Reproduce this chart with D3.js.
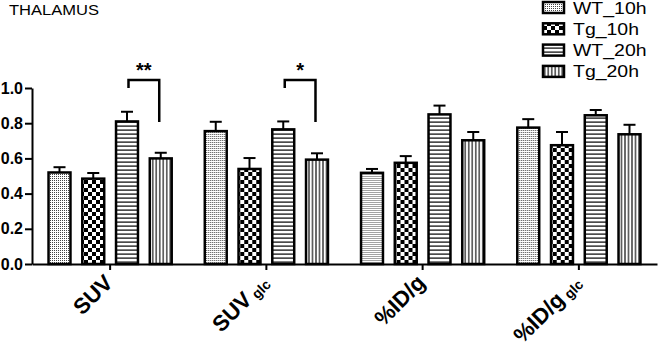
<!DOCTYPE html>
<html lang="en">
<head>
    <meta charset="UTF-8">
    <title>Thalamus bar chart</title>
    <script src="https://d3js.org/d3.v7.min.js"></script>
    <style>
        body {
            margin: 0;
            font-family: Arial, "Liberation Sans", sans-serif;
            background: #fff;
        }

        .axis path, .axis line {
            stroke: #000;
            stroke-width: 2;
        }

        .axis text {
            font-family: Arial, "Liberation Sans", sans-serif;
            font-weight: bold;
            font-size: 16px;
            fill: #000;
        }
    </style>
</head>
<body>
<div id="chart"></div>

<script>
    // Chart data
    const groups = ["SUV", "SUVglc", "%ID/g", "%ID/gglc"];
    const groupMain = ["SUV", "SUV", "%ID/g", "%ID/g"];
    const groupSub = ["", "glc", "", "glc"];
    const series = ["WT_10h", "Tg_10h", "WT_20h", "Tg_20h"];

    const wt10 = [0.52, 0.755, 0.518, 0.775];
    const tg10 = [0.485, 0.54, 0.575, 0.675];
    const wt20 = [0.81, 0.765, 0.85, 0.845];
    const tg20 = [0.6, 0.593, 0.703, 0.737];

    const wt10Err = [0.03, 0.053, 0.022, 0.048];
    const tg10Err = [0.032, 0.062, 0.038, 0.075];
    const wt20Err = [0.055, 0.045, 0.05, 0.03];
    const tg20Err = [0.032, 0.036, 0.047, 0.054];

    const yTicks = [0.0, 0.2, 0.4, 0.6, 0.8, 1.0];

    // significance brackets: group, bar pair, heights (data units)
    const sigGroup = [0, 1];
    const sigLabel = ["**", "*"];
    const sigTop = [1.045, 1.045];
    const sigLeftEnd = [1.0, 1.0];
    const sigRightEnd = [0.807, 0.807];

    const values = [wt10, tg10, wt20, tg20];
    const errors = [wt10Err, tg10Err, wt20Err, tg20Err];

    const width = 660;
    const height = 351;

    const svg = d3.select("#chart").append("svg")
        .attr("width", width)
        .attr("height", height);

    // Fill patterns
    const defs = svg.append("defs");

    const dots = defs.append("pattern")
        .attr("id", "p-dots")
        .attr("patternUnits", "userSpaceOnUse")
        .attr("width", 2).attr("height", 2);
    dots.append("rect").attr("width", 2).attr("height", 2).attr("fill", "#fff");
    dots.append("rect").attr("width", 1).attr("height", 1).attr("fill", "#444");

    const checker = defs.append("pattern")
        .attr("id", "p-checker")
        .attr("patternUnits", "userSpaceOnUse")
        .attr("width", 8).attr("height", 8);
    checker.append("rect").attr("width", 8).attr("height", 8).attr("fill", "#fff");
    checker.append("rect").attr("width", 4).attr("height", 4).attr("fill", "#000");
    checker.append("rect").attr("x", 4).attr("y", 4).attr("width", 4).attr("height", 4).attr("fill", "#000");

    const hlines = defs.append("pattern")
        .attr("id", "p-hlines")
        .attr("patternUnits", "userSpaceOnUse")
        .attr("width", 4).attr("height", 4);
    hlines.append("rect").attr("width", 4).attr("height", 4).attr("fill", "#fff");
    hlines.append("rect").attr("y", 1.5).attr("width", 4).attr("height", 1.2).attr("fill", "#000");

    const vlines = defs.append("pattern")
        .attr("id", "p-vlines")
        .attr("patternUnits", "userSpaceOnUse")
        .attr("width", 3.5).attr("height", 4);
    vlines.append("rect").attr("width", 3.5).attr("height", 4).attr("fill", "#fff");
    vlines.append("rect").attr("x", 1.2).attr("width", 1.1).attr("height", 4).attr("fill", "#000");

    const fills = ["url(#p-dots)", "url(#p-checker)", "url(#p-hlines)", "url(#p-vlines)"];

    // Scales
    const x0 = d3.scaleBand()
        .domain(groups)
        .range([32, 657])
        .padding(0);

    const x1 = d3.scaleBand()
        .domain(series)
        .range([0, x0.bandwidth()])
        .paddingInner(0.35)
        .paddingOuter(0.49);

    const y = d3.scaleLinear()
        .domain([0, 1])
        .range([264, 88]);

    // Y axis
    svg.append("g")
        .attr("class", "axis")
        .attr("transform", "translate(32,0)")
        .call(d3.axisLeft(y).tickValues(yTicks).tickFormat(d3.format(".1f")).tickSize(7).tickSizeOuter(0).tickPadding(2));

    // Bars
    groups.forEach((g, gi) => {
        const grp = svg.append("g").attr("transform", `translate(${x0(g)},0)`);
        series.forEach((s, si) => {
            const v = values[si][gi];
            const e = errors[si][gi];
            const cx = x1(s) + x1.bandwidth() / 2;

            // error bar (upper only)
            grp.append("line")
                .attr("x1", cx).attr("x2", cx)
                .attr("y1", y(v)).attr("y2", y(v + e))
                .attr("stroke", "#000").attr("stroke-width", 2);
            grp.append("line")
                .attr("x1", cx - 6).attr("x2", cx + 6)
                .attr("y1", y(v + e)).attr("y2", y(v + e))
                .attr("stroke", "#000").attr("stroke-width", 2);

            grp.append("rect")
                .attr("x", x1(s))
                .attr("y", y(v))
                .attr("width", x1.bandwidth())
                .attr("height", y(0) - y(v))
                .attr("fill", fills[si])
                .attr("stroke", "#000")
                .attr("stroke-width", 2.5);
        });
    });

    // X axis
    svg.append("g")
        .attr("class", "axis")
        .attr("transform", "translate(0,264)")
        .call(d3.axisBottom(x0).tickSize(6).tickSizeOuter(0).tickFormat(""));

    // X labels, rotated
    groups.forEach((g, gi) => {
        const cx = x0(g) + x0.bandwidth() / 2;
        const t = svg.append("text")
            .attr("transform", `translate(${cx + 4},284) rotate(-45)`)
            .attr("text-anchor", "end")
            .style("font-family", "Arial, 'Liberation Sans', sans-serif")
            .style("font-weight", "bold")
            .style("font-size", "22px");
        t.append("tspan").text(groupMain[gi]);
        if (groupSub[gi]) {
            t.append("tspan")
                .attr("dx", 4)
                .attr("dy", 2)
                .style("font-size", "14px")
                .text(groupSub[gi]);
        }
    });

    // Significance brackets
    sigGroup.forEach((gi, k) => {
        const g = groups[gi];
        const xl = x0(g) + x1(series[2]) + x1.bandwidth() / 2 + 1.5;
        const xr = x0(g) + x1(series[3]) + x1.bandwidth() / 2 - 1.5;
        svg.append("path")
            .attr("d", `M${xl},${y(sigLeftEnd[k])}V${y(sigTop[k])}H${xr}V${y(sigRightEnd[k])}`)
            .attr("fill", "none")
            .attr("stroke", "#000")
            .attr("stroke-width", 2.5);
        svg.append("text")
            .attr("x", (xl + xr) / 2)
            .attr("y", y(sigTop[k]) - 3.5)
            .attr("text-anchor", "middle")
            .style("font-weight", "bold")
            .style("font-size", "20px")
            .text(sigLabel[k]);
    });

    // Title
    svg.append("text")
        .attr("x", 9)
        .attr("y", 15)
        .attr("textLength", 90)
        .attr("lengthAdjust", "spacingAndGlyphs")
        .style("font-size", "15.5px")
        .text("THALAMUS");

    // Legend
    const legend = svg.append("g").attr("transform", "translate(543,2)");
    series.forEach((s, i) => {
        legend.append("rect")
            .attr("x", 0)
            .attr("y", i * 21.3)
            .attr("width", 21)
            .attr("height", 11)
            .attr("fill", fills[i])
            .attr("stroke", "#000")
            .attr("stroke-width", 2.5);
        legend.append("text")
            .attr("transform", `translate(30,${i * 21.3 + 11.5}) scale(1.18,1)`)
            .style("font-size", "16.5px")
            .text(s);
    });
</script>
</body>
</html>
